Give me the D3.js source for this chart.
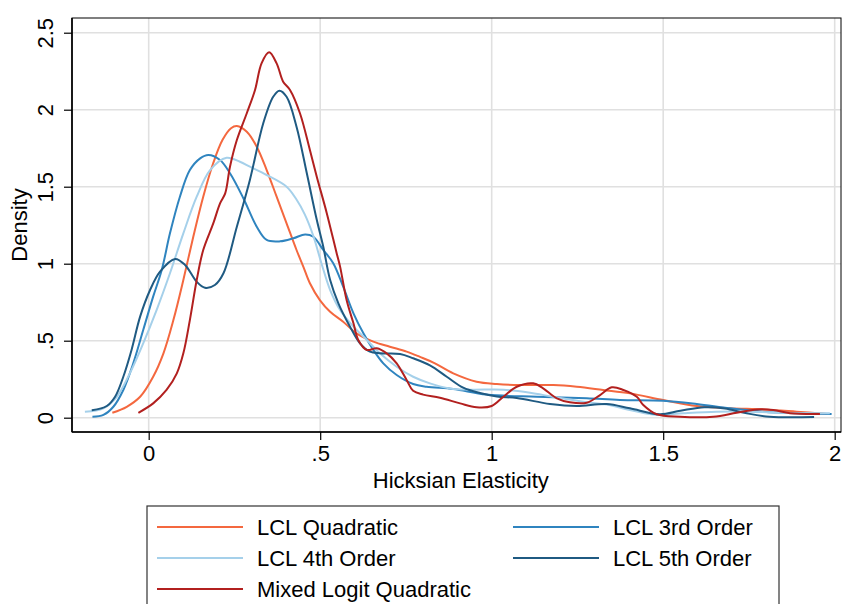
<!DOCTYPE html>
<html>
<head>
<meta charset="utf-8">
<script src="https://cdn.jsdelivr.net/npm/d3@7/dist/d3.min.js"></script>
<style>
  html, body { margin: 0; padding: 0; background: #fff; }
  svg { display: block; }
  text { font-family: "Liberation Sans", Arial, sans-serif; fill: #000; }
</style>
</head>
<body>
<svg id="chart" width="843" height="604"></svg>
<script>
// ---------- data ----------
const xTicks = [0, 0.5, 1, 1.5, 2];
const xTickLabels = ["0", ".5", "1", "1.5", "2"];
const yTicks = [0, 0.5, 1, 1.5, 2, 2.5];
const yTickLabels = ["0", ".5", "1", "1.5", "2", "2.5"];
const xTitle = "Hicksian Elasticity";
const yTitle = "Density";

const seriesNames = ["LCL Quadratic", "LCL 3rd Order", "LCL 4th Order", "LCL 5th Order", "Mixed Logit Quadratic"];
const seriesColors = ["#f4683f", "#2f84bf", "#a5d0ea", "#1f5a82", "#b2201f"];

const lclQuadratic = [[-0.106,0.032],[-0.064,0.071],[-0.025,0.136],[0.013,0.266],[0.043,0.418],[0.072,0.634],[0.101,0.894],[0.130,1.175],[0.159,1.435],[0.188,1.652],[0.215,1.803],[0.240,1.880],[0.257,1.894],[0.286,1.857],[0.315,1.760],[0.344,1.608],[0.373,1.435],[0.402,1.262],[0.431,1.089],[0.451,0.980],[0.470,0.873],[0.499,0.764],[0.529,0.688],[0.567,0.623],[0.606,0.548],[0.655,0.494],[0.703,0.461],[0.752,0.429],[0.791,0.395],[0.830,0.358],[0.888,0.288],[0.956,0.234],[1.015,0.219],[1.083,0.212],[1.180,0.212],[1.248,0.201],[1.325,0.180],[1.403,0.158],[1.500,0.115],[1.598,0.076],[1.695,0.061],[1.792,0.054],[1.889,0.039],[1.977,0.024]];

const lcl3rd = [[-0.164,0.006],[-0.132,0.018],[-0.103,0.071],[-0.074,0.180],[-0.045,0.353],[-0.016,0.569],[0.013,0.786],[0.038,0.959],[0.062,1.197],[0.091,1.435],[0.120,1.608],[0.150,1.684],[0.174,1.706],[0.208,1.673],[0.237,1.587],[0.276,1.425],[0.315,1.240],[0.344,1.154],[0.383,1.145],[0.422,1.165],[0.456,1.190],[0.480,1.175],[0.509,1.089],[0.538,1.003],[0.567,0.851],[0.597,0.678],[0.626,0.548],[0.655,0.440],[0.684,0.353],[0.723,0.277],[0.771,0.219],[0.810,0.201],[0.888,0.186],[0.985,0.150],[1.131,0.136],[1.277,0.126],[1.374,0.115],[1.500,0.110],[1.598,0.089],[1.695,0.061],[1.792,0.039],[1.889,0.029],[1.991,0.024]];

const lcl4th = [[-0.186,0.039],[-0.132,0.061],[-0.093,0.136],[-0.055,0.288],[-0.016,0.483],[0.023,0.699],[0.062,0.938],[0.101,1.197],[0.140,1.435],[0.179,1.608],[0.227,1.688],[0.266,1.662],[0.295,1.630],[0.344,1.576],[0.402,1.500],[0.430,1.420],[0.455,1.320],[0.480,1.180],[0.504,1.000],[0.529,0.829],[0.558,0.699],[0.597,0.591],[0.636,0.505],[0.674,0.418],[0.723,0.331],[0.771,0.266],[0.820,0.223],[0.878,0.190],[0.937,0.182],[1.034,0.182],[1.112,0.162],[1.180,0.135],[1.277,0.100],[1.335,0.085],[1.413,0.045],[1.481,0.018],[1.559,0.029],[1.656,0.039],[1.753,0.039],[1.850,0.032],[1.986,0.029]];

const lcl5th = [[-0.166,0.048],[-0.122,0.076],[-0.098,0.136],[-0.074,0.266],[-0.050,0.440],[-0.025,0.656],[0.004,0.829],[0.033,0.948],[0.077,1.031],[0.106,0.992],[0.140,0.883],[0.164,0.844],[0.193,0.862],[0.218,0.938],[0.257,1.240],[0.295,1.544],[0.334,1.912],[0.363,2.084],[0.381,2.123],[0.402,2.084],[0.431,1.890],[0.461,1.587],[0.490,1.285],[0.509,1.110],[0.529,0.894],[0.553,0.743],[0.587,0.591],[0.616,0.483],[0.645,0.429],[0.674,0.418],[0.733,0.414],[0.771,0.386],[0.820,0.340],[0.869,0.266],[0.917,0.195],[0.966,0.160],[1.015,0.138],[1.073,0.128],[1.170,0.089],[1.248,0.076],[1.335,0.089],[1.403,0.061],[1.490,0.022],[1.550,0.045],[1.620,0.068],[1.680,0.060],[1.740,0.030],[1.810,0.006],[1.940,0.004]];

const mixedLogit = [[-0.030,0.032],[0.013,0.093],[0.052,0.180],[0.082,0.288],[0.101,0.418],[0.120,0.634],[0.140,0.894],[0.159,1.089],[0.188,1.260],[0.208,1.392],[0.223,1.457],[0.237,1.630],[0.257,1.803],[0.286,1.977],[0.310,2.128],[0.329,2.301],[0.351,2.373],[0.373,2.301],[0.392,2.182],[0.412,2.128],[0.441,1.977],[0.470,1.738],[0.490,1.565],[0.519,1.330],[0.548,1.068],[0.558,0.981],[0.577,0.764],[0.597,0.613],[0.611,0.505],[0.636,0.440],[0.665,0.451],[0.694,0.418],[0.723,0.353],[0.752,0.245],[0.771,0.175],[0.800,0.150],[0.849,0.130],[0.908,0.093],[0.956,0.068],[1.000,0.076],[1.034,0.136],[1.073,0.201],[1.121,0.223],[1.150,0.191],[1.190,0.126],[1.228,0.100],[1.277,0.097],[1.316,0.147],[1.350,0.197],[1.384,0.180],[1.423,0.136],[1.442,0.082],[1.481,0.022],[1.549,0.006],[1.646,0.006],[1.714,0.032],[1.773,0.054],[1.821,0.050],[1.870,0.029],[1.957,0.024]];

const seriesData = [lclQuadratic, lcl3rd, lcl4th, lcl5th, mixedLogit];

// ---------- layout ----------
const svg = d3.select("#chart");
const plot = { left: 72, top: 18, right: 841, bottom: 432 };
const FONT = 22;

const x = d3.scaleLinear().domain([-0.2236, 2.0184]).range([plot.left, plot.right]);
const y = d3.scaleLinear().domain([-0.0929, 2.5955]).range([plot.bottom, plot.top]);

// gridlines
const grid = svg.append("g");
grid.selectAll("line.vx").data(xTicks).join("line")
  .attr("x1", d => x(d)).attr("x2", d => x(d))
  .attr("y1", plot.top).attr("y2", plot.bottom)
  .attr("stroke", "#e0e0e0").attr("stroke-width", 1.6);
grid.selectAll("line.hy").data(yTicks).join("line")
  .attr("x1", plot.left).attr("x2", plot.right)
  .attr("y1", d => y(d)).attr("y2", d => y(d))
  .attr("stroke", "#e0e0e0").attr("stroke-width", 1.6);

// frame
svg.append("rect")
  .attr("x", plot.left).attr("y", plot.top)
  .attr("width", plot.right - plot.left).attr("height", plot.bottom - plot.top)
  .attr("fill", "none").attr("stroke", "#000").attr("stroke-width", 1);

// curves
const line = d3.line().x(d => x(d[0])).y(d => y(d[1])).curve(d3.curveCatmullRom.alpha(0.5));
svg.append("g").selectAll("path").data(seriesData).join("path")
  .attr("d", d => line(d))
  .attr("fill", "none")
  .attr("stroke", (d, i) => seriesColors[i])
  .attr("stroke-width", 2)
  .attr("stroke-linejoin", "round");

// x axis
const xAxis = d3.axisBottom(x).tickValues(xTicks).tickSize(8)
  .tickFormat((d, i) => xTickLabels[i]);
const gx = svg.append("g").attr("transform", `translate(0,${plot.bottom})`).call(xAxis);
gx.select(".domain").attr("stroke", "#000").attr("stroke-width", 1.6)
  .attr("d", `M${plot.left},0H${plot.right}`);
gx.selectAll(".tick line").attr("stroke", "#000").attr("stroke-width", 1.2);
gx.selectAll(".tick text").attr("font-size", FONT).attr("font-family", "Liberation Sans, Arial, sans-serif")
  .attr("y", 9).attr("dy", "0.93em").attr("fill", "#000");

// y axis
const yAxis = d3.axisLeft(y).tickValues(yTicks).tickSize(8)
  .tickFormat((d, i) => yTickLabels[i]);
const gy = svg.append("g").attr("transform", `translate(${plot.left},0)`).call(yAxis);
gy.select(".domain").attr("stroke", "#000").attr("stroke-width", 1.6)
  .attr("d", `M0,${plot.top}V${plot.bottom}`);
gy.selectAll(".tick line").attr("stroke", "#000").attr("stroke-width", 1.2);
gy.selectAll(".tick text").attr("font-size", FONT).attr("font-family", "Liberation Sans, Arial, sans-serif")
  .attr("x", null).attr("dy", null).attr("fill", "#000")
  .attr("text-anchor", "middle")
  .attr("transform", "translate(-19,0) rotate(-90)");

// axis titles
svg.append("text").attr("x", x(0.91)).attr("y", 488)
  .attr("text-anchor", "middle").attr("font-size", FONT).text(xTitle);
svg.append("text").attr("transform", `translate(27,${(plot.top + plot.bottom) / 2}) rotate(-90)`)
  .attr("text-anchor", "middle").attr("font-size", FONT).text(yTitle);

// legend
const legend = svg.append("g");
legend.append("rect").attr("x", 147).attr("y", 506).attr("width", 632).attr("height", 140)
  .attr("fill", "#fff").attr("stroke", "#333").attr("stroke-width", 1.2);
const colX = [157, 513];
const rowY = [527, 558, 589];
const items = seriesNames.map((n, i) => ({ name: n, color: seriesColors[i], col: i % 2, row: Math.floor(i / 2) }));
const li = legend.selectAll("g.item").data(items).join("g")
  .attr("transform", d => `translate(${colX[d.col]},${rowY[d.row]})`);
li.append("line").attr("x1", 0).attr("x2", 86).attr("y1", 0).attr("y2", 0)
  .attr("stroke", d => d.color).attr("stroke-width", 2);
li.append("text").attr("x", 100).attr("y", 8).attr("font-size", FONT).text(d => d.name);
</script>
</body>
</html>
